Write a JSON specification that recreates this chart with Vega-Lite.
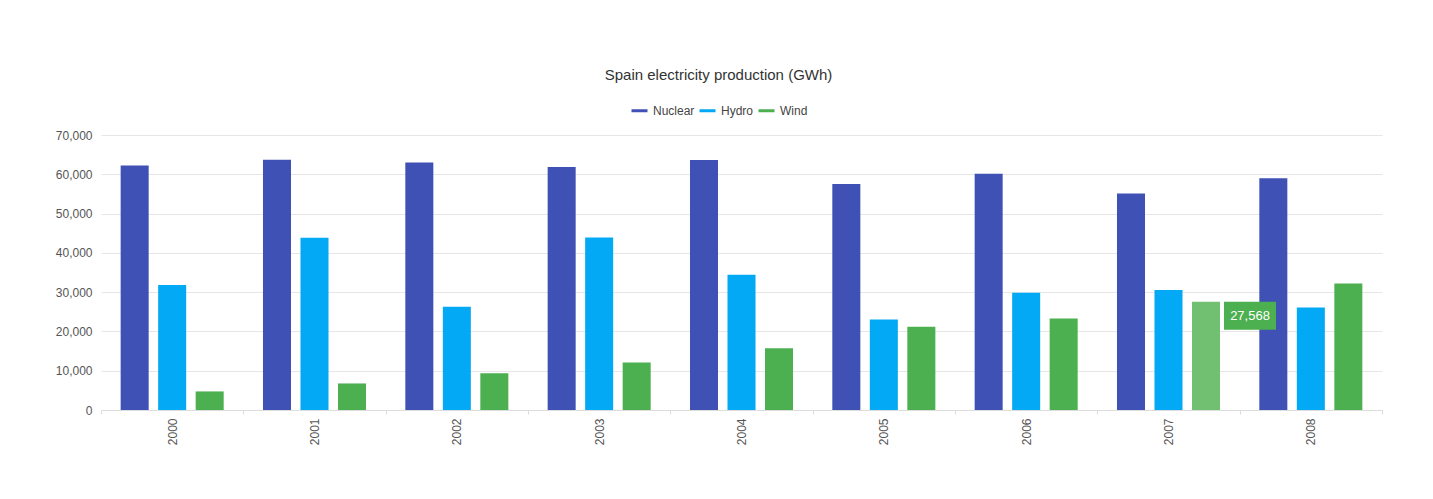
{
  "$schema": "https://vega.github.io/schema/vega-lite/v6.json",
  "width": 1281,
  "height": 275,
  "autosize": {"type": "none"},
  "padding": {"left": 101, "top": 135, "right": 51, "bottom": 89},
  "background": "white",
  "config": {"view": {"stroke": null}, "font": "Liberation Sans"},
  "title": {"text": "Spain electricity production (GWh)", "fontSize": 15, "fontWeight": "normal", "color": "#333333", "anchor": "middle", "dx": -23, "offset": 18, "font": "Liberation Sans"},
  "data": {"values": [
    {"year": "2000", "type": "Nuclear", "value": 62206},
    {"year": "2000", "type": "Hydro", "value": 31807},
    {"year": "2000", "type": "Wind", "value": 4727},
    {"year": "2001", "type": "Nuclear", "value": 63708},
    {"year": "2001", "type": "Hydro", "value": 43864},
    {"year": "2001", "type": "Wind", "value": 6759},
    {"year": "2002", "type": "Nuclear", "value": 63016},
    {"year": "2002", "type": "Hydro", "value": 26270},
    {"year": "2002", "type": "Wind", "value": 9342},
    {"year": "2003", "type": "Nuclear", "value": 61875},
    {"year": "2003", "type": "Hydro", "value": 43897},
    {"year": "2003", "type": "Wind", "value": 12075},
    {"year": "2004", "type": "Nuclear", "value": 63606},
    {"year": "2004", "type": "Hydro", "value": 34439},
    {"year": "2004", "type": "Wind", "value": 15700},
    {"year": "2005", "type": "Nuclear", "value": 57539},
    {"year": "2005", "type": "Hydro", "value": 23025},
    {"year": "2005", "type": "Wind", "value": 21176},
    {"year": "2006", "type": "Nuclear", "value": 60126},
    {"year": "2006", "type": "Hydro", "value": 29831},
    {"year": "2006", "type": "Wind", "value": 23297},
    {"year": "2007", "type": "Nuclear", "value": 55103},
    {"year": "2007", "type": "Hydro", "value": 30522},
    {"year": "2007", "type": "Wind", "value": 27568},
    {"year": "2008", "type": "Nuclear", "value": 58973},
    {"year": "2008", "type": "Hydro", "value": 26112},
    {"year": "2008", "type": "Wind", "value": 32203}
  ]},
  "encoding": {
    "x": {"field": "year", "type": "nominal", "title": null,
      "scale": {"paddingInner": 0, "paddingOuter": 0},
      "axis": {"labelAngle": -90, "labelFontSize": 12, "labelColor": "#555555", "domainColor": "#dddddd", "tickColor": "#dddddd", "tickSize": 4, "tickBand": "extent", "labelPadding": 4, "grid": false}},
    "xOffset": {"field": "type", "type": "nominal", "sort": ["Nuclear", "Hydro", "Wind"],
      "scale": {"paddingInner": 0.253, "paddingOuter": 0.524}},
    "y": {"field": "value", "type": "quantitative", "title": null,
      "scale": {"domain": [0, 70000], "nice": false},
      "axis": {"values": [0, 10000, 20000, 30000, 40000, 50000, 60000, 70000], "format": ",d", "labelFontSize": 12, "labelColor": "#555555", "ticks": false, "domain": false, "gridColor": "#e6e6e6", "labelPadding": 9}}
  },
  "layer": [
    {
      "mark": {"type": "bar"},
      "encoding": {
        "color": {"field": "type", "type": "nominal",
          "scale": {"domain": ["Nuclear", "Hydro", "Wind"], "range": ["#3f51b5", "#03a9f4", "#4caf50"]},
          "condition": {"test": "datum.year == '2007' && datum.type == 'Wind'", "value": "#71bf71"},
          "legend": {"title": null, "orient": "none", "direction": "horizontal", "legendX": 529, "legendY": -34,
            "symbolType": "stroke", "symbolStrokeWidth": 3, "symbolSize": 256, "labelFontSize": 12, "labelColor": "#444444", "labelOffset": 4, "columnPadding": -2,
            "encode": {"symbols": {"update": {"stroke": {"scale": "color", "field": "value"}, "strokeWidth": {"value": 3}}}}}
        }
      }
    },
    {
      "transform": [{"filter": "datum.year == '2007' && datum.type == 'Wind'"}],
      "mark": {"type": "point", "shape": "M1.8,0H7V2.8H1.8Z", "filled": true, "color": "#4caf50", "size": 400, "opacity": 1}
    },
    {
      "transform": [{"filter": "datum.year == '2007' && datum.type == 'Wind'"}],
      "mark": {"type": "text", "dx": 44, "dy": 14, "color": "white", "fontSize": 13, "baseline": "middle", "align": "center"},
      "encoding": {"text": {"field": "value", "type": "quantitative", "format": ","}}
    }
  ]
}
